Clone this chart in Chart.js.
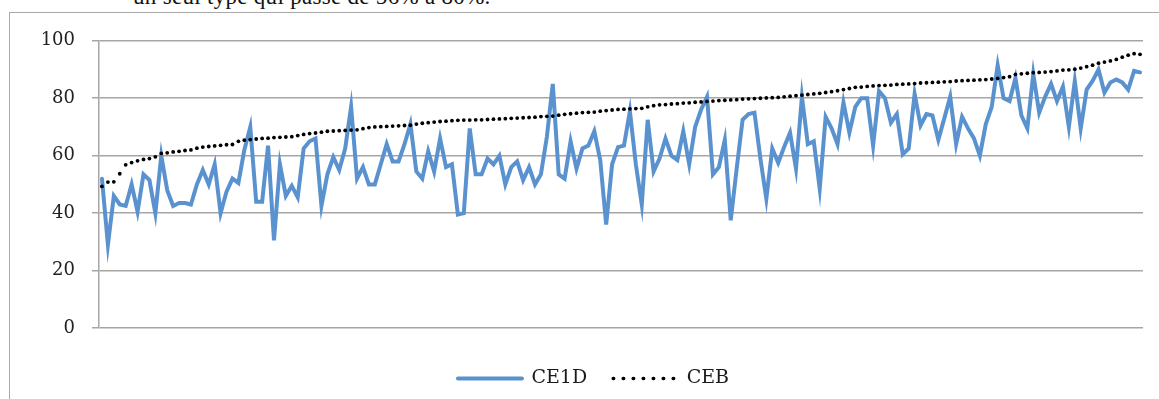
<!DOCTYPE html>
<html>
<head>
<meta charset="utf-8">
<script src="https://cdn.jsdelivr.net/npm/chart.js@4.4.1/dist/chart.umd.min.js"></script>
<style>
  html, body { margin: 0; padding: 0; background: #fff; width: 1159px; height: 399px; overflow: hidden; }
  .note { position: absolute; left: 133px; top: -16px; font: 23px "Liberation Serif", serif; color: #111; white-space: nowrap; letter-spacing: 0.3px; }
  .frame { position: absolute; left: 9px; top: 12px; width: 1160px; height: 400px; border: 1px solid #a9a9a9; box-sizing: border-box; background: #fff; }
  .box { position: absolute; left: 10px; top: 13px; width: 1149px; height: 386px; }
</style>
</head>
<body>
<div class="note">un seul type qui passe de 56% à 80%.</div>
<div class="frame"></div>
<div class="box"><canvas id="chart"></canvas></div>
<script>
// one value per student, sorted on CEB
const ce1d = [
  52, 29, 46, 43, 42.5, 50, 40.5, 53.5, 51.5, 40,
  60, 48, 42.5, 43.5, 43.5, 43, 50, 55, 50, 57,
  40, 47.5, 52, 50.5, 62, 70, 44, 44, 63.5, 30.5,
  57, 46, 49.5, 45.5, 62.5, 65, 66, 42.5, 53.5, 59.5,
  55, 62.5, 77, 52, 56, 50, 50, 57, 64, 58,
  58, 64, 71, 54.5, 52, 61.5, 54.5, 66, 56, 57,
  39.5, 40, 69.5, 53.5, 53.5, 59, 57, 60, 50, 56,
  58, 51.5, 56, 50, 53.5, 66.5, 85, 53.5, 52, 65,
  55.5, 62.5, 63.5, 68.5, 58.5, 36, 57, 63, 63.5, 75.5,
  57, 43, 72.5, 54.5, 59, 66, 60, 58.5, 68.5, 57,
  70, 76, 80.5, 53.5, 56, 65.5, 37.5, 55.5, 72.5, 74.5,
  75, 59, 45, 62.5, 57.5, 63, 68, 55.5, 80.5, 64,
  65, 48.5, 73.5, 69.5, 64, 78.5, 68, 77, 80, 80,
  63.5, 82.5, 80, 71.5, 74.5, 60.5, 62.5, 81.5, 70.5, 74.5,
  74, 65.5, 73, 80.5, 64, 73.5, 69.5, 66, 60, 71,
  77, 91.5, 80, 79, 87, 74, 69.5, 88.5, 75, 80.5,
  85, 79, 84, 70, 86, 69.5, 83, 86, 90, 82,
  85.5, 86.5, 85.5, 83, 89.5, 89
];
const ceb = [
  49.3, 50.8, 50.9, 53.7, 56.8, 57.6, 58.2, 58.7, 59.0, 59.6,
  60.8, 61.0, 61.3, 61.5, 61.8, 62.0, 62.6, 63.0, 63.2, 63.4,
  63.6, 63.8, 63.9, 65.0, 65.4, 65.6, 65.8, 66.0, 66.1, 66.3,
  66.4, 66.5, 66.6, 67.0, 67.4, 67.7, 67.9, 68.2, 68.5, 68.6,
  68.7, 68.8, 68.9, 69.0, 69.4, 69.8, 70.0, 70.1, 70.2, 70.3,
  70.4, 70.5, 70.6, 71.0, 71.3, 71.5, 71.7, 71.9, 72.0, 72.2,
  72.3, 72.4, 72.4, 72.5, 72.5, 72.6, 72.7, 72.8, 72.9, 73.0,
  73.1, 73.2, 73.3, 73.4, 73.6, 73.7, 73.8, 74.1, 74.4, 74.6,
  74.8, 75.0, 75.1, 75.2, 75.5, 75.7, 75.9, 76.1, 76.2, 76.3,
  76.4, 76.5, 77.0, 77.4, 77.7, 77.8, 78.0, 78.1, 78.3, 78.4,
  78.6, 78.7, 78.9, 79.0, 79.2, 79.3, 79.4, 79.5, 79.7, 79.8,
  79.9, 80.0, 80.1, 80.2, 80.3, 80.5, 80.7, 80.9, 81.1, 81.3,
  81.5, 81.7, 82.0, 82.3, 82.6, 83.0, 83.4, 83.8, 83.9, 84.1,
  84.3, 84.4, 84.5, 84.6, 84.8, 84.9, 85.0, 85.1, 85.3, 85.4,
  85.5, 85.6, 85.7, 85.8, 86.0, 86.1, 86.2, 86.3, 86.4, 86.5,
  86.7, 86.9, 87.2, 87.5, 88.3, 88.5, 88.7, 88.9, 89.0, 89.1,
  89.3, 89.5, 89.8, 89.9, 90.1, 90.5, 91.0, 91.5, 92.2, 92.6,
  93.0, 93.5, 94.3, 95.0, 95.5, 95.3
];
const students = ce1d.map((v, i) => i + 1);
const yTicks = [0, 20, 40, 60, 80, 100];

const serif = 'DejaVu Serif';

// legend sits a little right of the canvas centre in the original
const nudgeLegend = {
  id: 'nudgeLegend',
  afterLayout(chart) {
    chart.legend.left += 17;
    chart.legend.right += 17;
  }
};

new Chart(document.getElementById('chart'), {
  type: 'line',
  data: {
    labels: students,
    datasets: [
      {
        label: 'CE1D',
        data: ce1d,
        borderColor: '#5a92cf',
        backgroundColor: '#5a92cf',
        borderWidth: 4,
        borderCapStyle: 'round',
        pointRadius: 0,
        tension: 0,
        order: 1
      },
      {
        label: 'CEB',
        data: ceb,
        showLine: false,
        borderColor: '#000',
        backgroundColor: '#000',
        pointRadius: 1.9,
        pointBorderWidth: 0,
        pointBackgroundColor: '#000',
        order: 0
      }
    ]
  },
  plugins: [nudgeLegend],
  options: {
    responsive: true,
    maintainAspectRatio: false,
    animation: false,
    layout: { padding: { left: 0, right: 16, top: 25, bottom: 1 } },
    plugins: {
      tooltip: { enabled: false },
      legend: {
        position: 'bottom',
        labels: {
          usePointStyle: true,
          pointStyle: 'line',
          pointStyleWidth: 64,
          padding: 26,
          color: '#1a1a1a',
          font: { family: serif, size: 19 },
          sort: (a, b) => a.datasetIndex - b.datasetIndex,
          generateLabels(chart) {
            const items = Chart.defaults.plugins.legend.labels.generateLabels(chart);
            items.forEach(it => {
              it.pointStyle = 'line';
              if (it.text === 'CEB') {
                it.strokeStyle = '#000';
                it.lineWidth = 3.5;
                it.lineDash = [0.5, 9.5];
                it.lineCap = 'round';
              } else {
                it.lineWidth = 4;
                it.lineCap = 'round';
              }
            });
            return items;
          }
        }
      }
    },
    scales: {
      x: {
        offset: true,
        grid: { display: false },
        ticks: { display: false },
        border: { display: false },
        afterFit: s => { s.height = 15; }
      },
      y: {
        min: 0,
        max: 100,
        afterBuildTicks: s => { s.ticks = yTicks.map(v => ({ value: v })); },
        ticks: { color: '#222', padding: 17, font: { family: serif, size: 18 } },
        grid: { color: '#a6a6a6', lineWidth: 1.5, tickLength: 7 },
        border: { color: '#a6a6a6', width: 1.5 },
        afterFit: s => { s.width = 89; }
      }
    }
  }
});
</script>
</body>
</html>
